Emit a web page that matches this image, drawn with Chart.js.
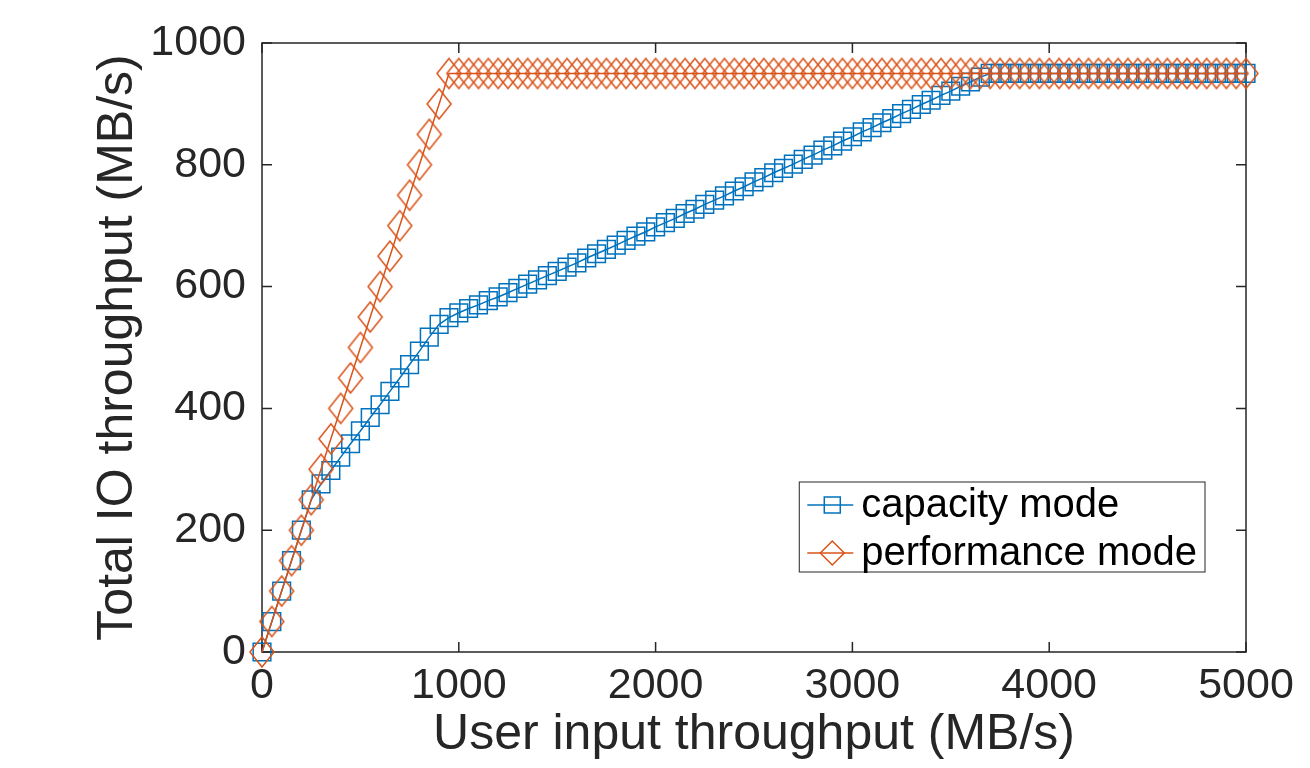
<!DOCTYPE html>
<html>
<head>
<meta charset="utf-8">
<script src="https://cdn.jsdelivr.net/npm/chart.js@4/dist/chart.umd.min.js"></script>
<style>
  html, body { margin: 0; padding: 0; background: #fff; }
  #wrap { width: 1310px; height: 768px; position: relative; }
</style>
</head>
<body>
<div id="wrap"><canvas id="ioChart"></canvas></div>
<script>
// user input throughput (MB/s), one point every 50
const inputThroughput = [
  0, 50, 100, 150, 200, 250, 300, 350, 400, 450,
  500, 550, 600, 650, 700, 750, 800, 850, 900, 950,
  1000, 1050, 1100, 1150, 1200, 1250, 1300, 1350, 1400, 1450,
  1500, 1550, 1600, 1650, 1700, 1750, 1800, 1850, 1900, 1950,
  2000, 2050, 2100, 2150, 2200, 2250, 2300, 2350, 2400, 2450,
  2500, 2550, 2600, 2650, 2700, 2750, 2800, 2850, 2900, 2950,
  3000, 3050, 3100, 3150, 3200, 3250, 3300, 3350, 3400, 3450,
  3500, 3550, 3600, 3650, 3700, 3750, 3800, 3850, 3900, 3950,
  4000, 4050, 4100, 4150, 4200, 4250, 4300, 4350, 4400, 4450,
  4500, 4550, 4600, 4650, 4700, 4750, 4800, 4850, 4900, 4950,
  5000
];

// total IO throughput (MB/s)
const capacityMode = [
  0, 50, 100, 150, 200, 250, 276, 298, 320, 342,
  363, 385, 406, 428, 450, 472, 494, 517, 538, 549,
  557, 564, 570, 577, 583, 590, 597, 604, 611, 618,
  625, 632, 639, 647, 654, 661, 668, 676, 683, 690,
  698, 705, 712, 720, 727, 735, 742, 749, 757, 764,
  772, 779, 787, 794, 801, 809, 816, 824, 831, 839,
  846, 854, 861, 869, 876, 884, 891, 899, 906, 914,
  921, 929, 936, 944, 950, 950, 950, 950, 950, 950,
  950, 950, 950, 950, 950, 950, 950, 950, 950, 950,
  950, 950, 950, 950, 950, 950, 950, 950, 950, 950,
  950
];

const performanceMode = [
  0, 50, 100, 150, 200, 250, 300, 350, 400, 450,
  500, 550, 600, 650, 700, 750, 800, 850, 900, 950,
  950, 950, 950, 950, 950, 950, 950, 950, 950, 950,
  950, 950, 950, 950, 950, 950, 950, 950, 950, 950,
  950, 950, 950, 950, 950, 950, 950, 950, 950, 950,
  950, 950, 950, 950, 950, 950, 950, 950, 950, 950,
  950, 950, 950, 950, 950, 950, 950, 950, 950, 950,
  950, 950, 950, 950, 950, 950, 950, 950, 950, 950,
  950, 950, 950, 950, 950, 950, 950, 950, 950, 950,
  950, 950, 950, 950, 950, 950, 950, 950, 950, 950,
  950
];

const xTickValues = [0, 1000, 2000, 3000, 4000, 5000];
const yTickValues = [0, 200, 400, 600, 800, 1000];
const seriesNames = ['capacity mode', 'performance mode'];

const BLUE = '#0072BD';
const ORANGE = '#D95319';
const AXIS = '#262626';

Chart.defaults.font.family = '"Liberation Sans", Arial, Helvetica, sans-serif';

const toPoints = (ys) => inputThroughput.map((x, i) => ({ x: x, y: ys[i] }));

// matlab diamond is a bit taller than wide, so draw it as an image marker
function diamondMarker(w, h, color) {
  const c = document.createElement('canvas');
  c.width = w + 4;
  c.height = h + 4;
  const g = c.getContext('2d');
  const cx = c.width / 2, cy = c.height / 2;
  g.strokeStyle = color;
  g.lineWidth = 1.5;
  g.beginPath();
  g.moveTo(cx - w / 2, cy);
  g.lineTo(cx, cy - h / 2);
  g.lineTo(cx + w / 2, cy);
  g.lineTo(cx, cy + h / 2);
  g.closePath();
  g.stroke();
  return c;
}

// box round the axes with inward ticks on all four sides
const axisBox = {
  id: 'axisBox',
  beforeDatasetsDraw(chart) {
    const { ctx, chartArea: a, scales: { x, y } } = chart;
    const len = 10;
    ctx.save();
    ctx.strokeStyle = AXIS;
    ctx.lineWidth = 1.5;
    ctx.strokeRect(a.left, a.top, a.right - a.left, a.bottom - a.top);
    ctx.beginPath();
    x.ticks.forEach(t => {
      const px = x.getPixelForValue(t.value);
      ctx.moveTo(px, a.bottom); ctx.lineTo(px, a.bottom - len);
      ctx.moveTo(px, a.top); ctx.lineTo(px, a.top + len);
    });
    y.ticks.forEach(t => {
      const py = y.getPixelForValue(t.value);
      ctx.moveTo(a.left, py); ctx.lineTo(a.left + len, py);
      ctx.moveTo(a.right, py); ctx.lineTo(a.right - len, py);
    });
    ctx.stroke();
    ctx.restore();
  }
};

// legend box inside the plot, line + marker samples
const boxLegend = {
  id: 'boxLegend',
  afterDraw(chart) {
    const { ctx, chartArea: a } = chart;
    const ds = chart.data.datasets;
    ctx.save();
    ctx.font = '40px ' + Chart.defaults.font.family;
    const textW = Math.max(...seriesNames.map(n => ctx.measureText(n).width));
    const rowH = 48;
    const boxW = 62 + textW + 8;
    const boxH = 90;
    const right = a.right - 41;
    const bottom = a.bottom - 80;
    const left = right - boxW;
    const top = bottom - boxH;
    ctx.fillStyle = '#fff';
    ctx.fillRect(left, top, boxW, boxH);
    ctx.strokeStyle = AXIS;
    ctx.lineWidth = 1;
    ctx.strokeRect(left, top, boxW, boxH);

    ds.forEach((d, i) => {
      const cy = top + 23 + i * rowH;
      const cx = left + 33;
      ctx.strokeStyle = d.borderColor;
      ctx.lineWidth = 1.5;
      ctx.beginPath();
      ctx.moveTo(left + 8, cy);
      ctx.lineTo(left + 54, cy);
      ctx.stroke();
      ctx.beginPath();
      if (i === 0) {
        ctx.rect(cx - 8, cy - 8, 16, 16);
      } else {
        ctx.moveTo(cx - 12, cy);
        ctx.lineTo(cx, cy - 12);
        ctx.lineTo(cx + 12, cy);
        ctx.lineTo(cx, cy + 12);
        ctx.closePath();
      }
      ctx.stroke();
      ctx.fillStyle = '#000';
      ctx.textBaseline = 'middle';
      ctx.textAlign = 'left';
      ctx.fillText(seriesNames[i], left + 62, cy + 1);
    });
    ctx.restore();
  }
};

const ctx = document.getElementById('ioChart').getContext('2d');

new Chart(ctx, {
  type: 'line',
  data: {
    datasets: [
      {
        label: seriesNames[0],
        data: toPoints(capacityMode),
        borderColor: BLUE,
        borderWidth: 1.5,
        pointStyle: 'rect',
        pointRadius: 12.5,
        pointBorderWidth: 1.5,
        pointBorderColor: BLUE,
        pointBackgroundColor: 'rgba(0,0,0,0)',
        tension: 0,
        clip: false,
        order: 1
      },
      {
        label: seriesNames[1],
        data: toPoints(performanceMode),
        borderColor: ORANGE,
        borderWidth: 1.5,
        pointStyle: diamondMarker(24, 30, ORANGE),
        pointRadius: 15,
        tension: 0,
        clip: false,
        order: 0
      }
    ]
  },
  options: {
    responsive: true,
    maintainAspectRatio: false,
    animation: false,
    events: [],
    layout: { padding: { top: 43, right: 64, left: 0, bottom: 0 } },
    plugins: {
      legend: { display: false },
      tooltip: { enabled: false },
      title: { display: false }
    },
    scales: {
      x: {
        type: 'linear',
        min: 0,
        max: 5000,
        grid: { display: false, drawTicks: false },
        border: { display: false },
        afterBuildTicks: (scale) => { scale.ticks = xTickValues.map(v => ({ value: v })); },
        afterFit: (scale) => { scale.height = 116; },
        ticks: {
          color: AXIS,
          padding: 8,
          maxRotation: 0,
          autoSkip: false,
          font: { size: 43 },
          callback: (v) => String(v)
        },
        title: {
          display: true,
          text: 'User input throughput (MB/s)',
          color: AXIS,
          font: { size: 50 },
          padding: { top: 0, bottom: 3 }
        }
      },
      y: {
        type: 'linear',
        min: 0,
        max: 1000,
        grid: { display: false, drawTicks: false },
        border: { display: false },
        afterBuildTicks: (scale) => { scale.ticks = yTickValues.map(v => ({ value: v })); },
        afterFit: (scale) => { scale.width = 262; },
        ticks: {
          color: AXIS,
          padding: 16,
          autoSkip: false,
          font: { size: 43 },
          callback: (v) => String(v)
        },
        title: {
          display: true,
          text: 'Total IO throughput (MB/s)',
          color: AXIS,
          font: { size: 50 },
          padding: { top: 88, bottom: 0 }
        }
      }
    }
  },
  plugins: [axisBox, boxLegend]
});
</script>
</body>
</html>
